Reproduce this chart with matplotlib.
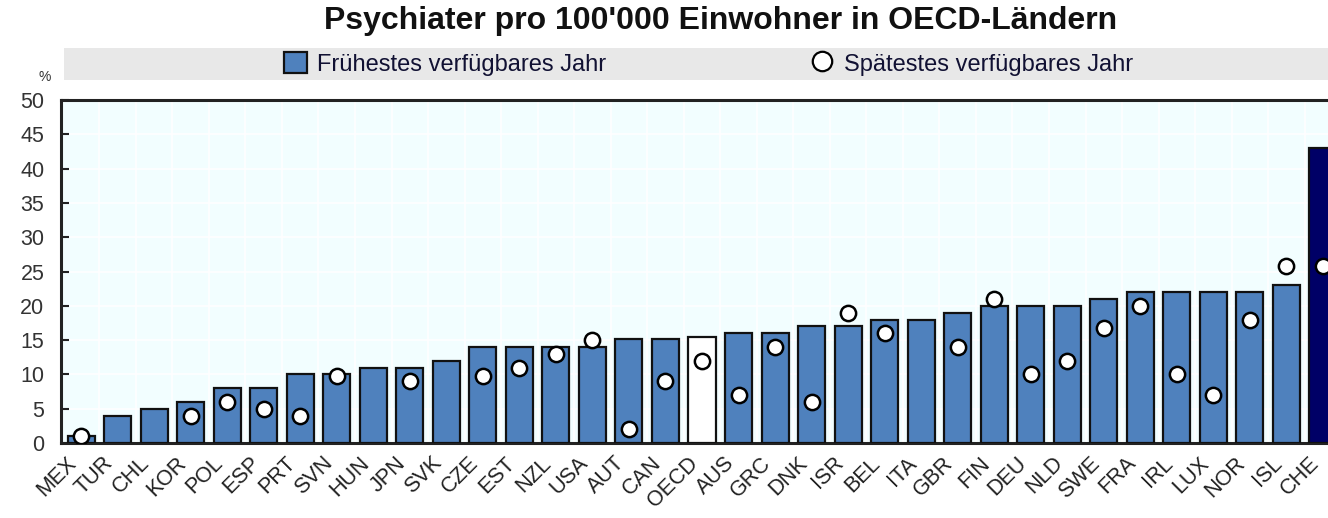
import numpy as np
import matplotlib
matplotlib.use("Agg")
import matplotlib.pyplot as plt
from matplotlib.patches import Patch, Rectangle
from matplotlib.lines import Line2D

plt.rcParams['font.family'] = ['Liberation Sans', 'DejaVu Sans']

countries = ["MEX", "TUR", "CHL", "KOR", "POL", "ESP", "PRT", "SVN", "HUN", "JPN",
             "SVK", "CZE", "EST", "NZL", "USA", "AUT", "CAN", "OECD", "AUS", "GRC",
             "DNK", "ISR", "BEL", "ITA", "GBR", "FIN", "DEU", "NLD", "SWE", "FRA",
             "IRL", "LUX", "NOR", "ISL", "CHE"]
earliest = [1, 4, 5, 6, 8, 8, 10, 10, 11, 11,
            12, 14, 14, 14, 14, 15.2, 15.2, 15.5, 16, 16,
            17, 17, 18, 18, 19, 20, 20, 20, 21, 22,
            22, 22, 22, 23, 43]
latest = [1, np.nan, np.nan, 4, 6, 5, 4, 9.7, np.nan, 9,
          np.nan, 9.7, 11, 13, 15, 2, 9, 12, 7, 14,
          6, 19, 16, np.nan, 14, 21, 10, 12, 16.7, 20,
          10, 7, 18, 25.8, 25.8]
yticks = [0, 5, 10, 15, 20, 25, 30, 35, 40, 45, 50]

title = "Psychiater pro 100'000 Einwohner in OECD-Ländern"
label_early = "Frühestes verfügbares Jahr"
label_late = "Spätestes verfügbares Jahr"

BLUE = "#4F81BD"
NAVY = "#000066"
BG = "#F2FEFF"

W, H = 1328, 518
fig = plt.figure(figsize=(W / 100, H / 100), dpi=100)

# legend band
fig.patches.append(Rectangle((64 / W, 1 - 80 / H), 1.0, 32 / H, transform=fig.transFigure,
                             facecolor="#E8E8E8", edgecolor="none", zorder=0))

ax = fig.add_axes([61 / W, 1 - 443 / H, (1343 - 61) / W, (443 - 100) / H])
ax.set_facecolor(BG)

x = np.arange(len(countries))
colors = [BLUE] * len(countries)
colors[countries.index("OECD")] = "white"
colors[countries.index("CHE")] = NAVY
ax.bar(x, earliest, width=0.74, color=colors, edgecolor="#111111", linewidth=1.6, zorder=3)
ax.plot(x, latest, linestyle="none", marker="o", markersize=11, markerfacecolor="white",
        markeredgecolor="black", markeredgewidth=1.8, zorder=4)

ax.set_xlim(-0.55, len(countries) - 0.45)
ax.set_ylim(0, 50)
ax.set_yticks(yticks)
ax.set_yticklabels([str(v) for v in yticks], fontsize=15.5, color="#333333")
ax.set_xticks(x)
ax.set_xticklabels(countries, rotation=45, ha="right", va="top", fontsize=15.5, color="#222222")
ax.tick_params(axis="x", length=0, pad=7)
ax.tick_params(axis="y", direction="in", length=6, width=1.5, color="#222222", pad=12)

# grid
ax.set_xticks(x + 0.5, minor=True)
ax.grid(True, which="minor", axis="x", color="white", linewidth=1.2, zorder=1)
ax.grid(True, which="major", axis="y", color="white", linewidth=1.2, zorder=1)
ax.tick_params(axis="x", which="minor", length=0)

for s in ["top", "left", "bottom"]:
    ax.spines[s].set_linewidth(2.2)
    ax.spines[s].set_color("#222222")
ax.spines["right"].set_visible(False)

fig.text(45 / W, 1 - 77 / H, "%", fontsize=10, color="#333333", ha="center", va="center")
fig.text(721 / W, 1 - 21 / H, title, fontsize=23, fontweight="bold", ha="center", va="center",
         color="#111111")

handles = [Patch(facecolor=BLUE, edgecolor="#111111", linewidth=1.6),
           Line2D([0], [0], linestyle="none", marker="o", markersize=14, markerfacecolor="white",
                  markeredgecolor="black", markeredgewidth=1.6)]
fig.legend(handles, [label_early, label_late], loc="center", bbox_to_anchor=(708.5 / W, 1 - 64 / H),
           ncol=2, frameon=False, fontsize=17, handlelength=0.95, handleheight=0.95,
           handletextpad=0.42, columnspacing=8.7, borderpad=0, labelcolor="#111133")

fig.savefig("out.png", dpi=100)
